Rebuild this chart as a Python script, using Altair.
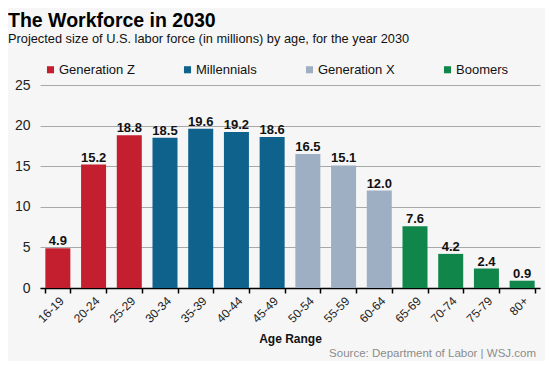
import altair as alt
import pandas as pd

ages = ["16-19", "20-24", "25-29", "30-34", "35-39", "40-44", "45-49",
        "50-54", "55-59", "60-64", "65-69", "70-74", "75-79", "80+"]
values = [4.9, 15.2, 18.8, 18.5, 19.6, 19.2, 18.6, 16.5, 15.1, 12.0, 7.6, 4.2, 2.4, 0.9]
gens = ["Generation Z"] * 3 + ["Millennials"] * 4 + ["Generation X"] * 3 + ["Boomers"] * 4
gen_order = ["Generation Z", "Millennials", "Generation X", "Boomers"]
gen_colors = ["#c41f2e", "#0e628c", "#9eafc4", "#11864a"]
y_ticks = [0, 5, 10, 15, 20, 25]

title_text = "The Workforce in 2030"
subtitle_text = "Projected size of U.S. labor force (in millions) by age, for the year 2030"
source_text = "Source: Department of Labor  |  WSJ.com"

df = pd.DataFrame({"age": ages, "value": values, "gen": gens})
df["label"] = [f"{v:.1f}" for v in values]

FONT = "Liberation Sans"

x_scale = alt.Scale(domain=ages, paddingInner=0.3, paddingOuter=0.15)
y_scale = alt.Scale(domain=[0, 25], nice=False, zero=True)

x = alt.X("age:N", sort=ages, title="Age Range", scale=x_scale,
          axis=alt.Axis(labelAngle=-45, labelFontSize=12, labelColor="#222",
                        labelFont=FONT, tickBand="extent", labelPadding=2,
                        domainColor="#000", tickColor="#000", tickSize=5, tickWidth=1.5,
                        domainWidth=1.5,
                        titleFont=FONT, titleFontSize=12,
                        titleFontWeight="bold", titleColor="#111", titlePadding=9))

y = alt.Y("value:Q", title=None, scale=y_scale,
          axis=alt.Axis(values=y_ticks, ticks=False, domain=False,
                        labelFontSize=14, labelColor="#222", labelFont=FONT,
                        labelPadding=10, gridColor="#a8a8a8", gridWidth=1.2))

bars = alt.Chart(df).mark_bar().encode(
    x=x,
    y=y,
    color=alt.Color("gen:N", sort=gen_order,
                    scale=alt.Scale(domain=gen_order, range=gen_colors),
                    legend=alt.Legend(title=None, orient="none", direction="horizontal",
                                      legendX=4, legendY=-22, symbolType="square",
                                      symbolSize=50, symbolStrokeWidth=0,
                                      labelFontSize=13, labelFont=FONT,
                                      labelColor="#111", columnPadding=46,
                                      labelOffset=2)),
)

texts = alt.Chart(df).mark_text(dy=-3, baseline="alphabetic", fontSize=13, fontWeight="bold",
                                font=FONT, color="#111").encode(
    x=alt.X("age:N", sort=ages, scale=x_scale),
    y=alt.Y("value:Q", scale=y_scale),
    text="label:N",
)

def note(txt, xpos, ypos, size, weight="normal", color="#000", align="left"):
    return alt.Chart(pd.DataFrame({"t": [txt]})).mark_text(
        align=align, baseline="alphabetic", fontSize=size, fontWeight=weight,
        font=FONT, color=color
    ).encode(x=alt.value(xpos), y=alt.value(ypos), text="t:N")

title = note(title_text, -32, -58, 19.5, "bold", "#000")
subtitle = note(subtitle_text, -32, -42, 12.8, "normal", "#111")
source = note(source_text, 496, 272, 11.5, "normal", "#8c8c8c", "right")

chart = alt.layer(bars, texts, title, subtitle, source).resolve_scale(y="shared").properties(
    width=500, height=203,
    background="#f6f6f6",
    padding={"left": 32, "top": 77, "right": 5, "bottom": 73},
    autosize=alt.AutoSizeParams(type="none"),
).configure_view(stroke=None)

chart.save("out.html", embed_options={"renderer": "svg", "actions": False})
